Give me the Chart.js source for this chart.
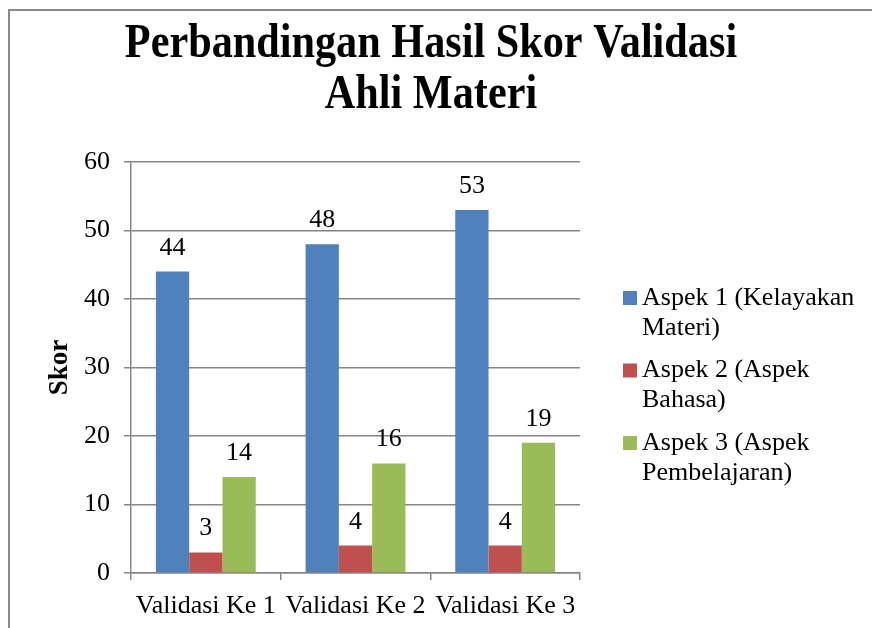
<!DOCTYPE html>
<html>
<head>
<meta charset="utf-8">
<title>Perbandingan Hasil Skor Validasi Ahli Materi</title>
<script src="https://cdn.jsdelivr.net/npm/chart.js@4.4.1/dist/chart.umd.min.js"></script>
<style>
  html, body { margin: 0; padding: 0; background: #fff; }
  #wrap { position: relative; width: 872px; height: 628px; overflow: hidden; }
  #frame {
    position: absolute; left: 8px; top: 9px; width: 900px; height: 700px;
    border-top: 2px solid #8a8a8a; border-left: 2px solid #8a8a8a;
  }
  #chartSkor { position: absolute; left: 0; top: 0; }
</style>
</head>
<body>
<div id="wrap">
  <div id="frame"></div>
  <canvas id="chartSkor" width="872" height="628"></canvas>
</div>
<script>
// ================== DATA ==================
const kategori = ["Validasi Ke 1", "Validasi Ke 2", "Validasi Ke 3"];
const aspek1 = [44, 48, 53];
const aspek2 = [3, 4, 4];
const aspek3 = [14, 16, 19];
const namaSeri = [
  "Aspek 1 (Kelayakan Materi)",
  "Aspek 2 (Aspek Bahasa)",
  "Aspek 3 (Aspek Pembelajaran)",
];
const judul = ["Perbandingan Hasil Skor Validasi", "Ahli Materi"];
const judulSumbuY = "Skor";

const FONT = "'Liberation Serif', 'Times New Roman', serif";
const warna = ["#4F81BD", "#C0504D", "#9BBB59"];

// ================== PLUGINS ==================
// judul dua baris, sedikit dipadatkan seperti aslinya
const judulPlugin = {
  id: "judulPlugin",
  afterDraw(chart) {
    const c = chart.ctx;
    c.save();
    c.fillStyle = "#000";
    c.font = "bold 48px " + FONT;
    c.textAlign = "center";
    c.textBaseline = "alphabetic";
    const baris = [57, 108];
    judul.forEach((t, i) => {
      c.save();
      c.translate(431, baris[i]);
      c.scale(0.88, 1);
      c.fillText(t, 0, 0);
      c.restore();
    });
    c.restore();
  },
};

// angka di atas batang
const labelNilai = {
  id: "labelNilai",
  afterDatasetsDraw(chart) {
    const c = chart.ctx;
    c.save();
    c.fillStyle = "#000";
    c.font = "26px " + FONT;
    c.textAlign = "center";
    c.textBaseline = "alphabetic";
    chart.data.datasets.forEach((ds, i) => {
      chart.getDatasetMeta(i).data.forEach((bar, j) => {
        c.fillText(String(ds.data[j]), bar.x, bar.y - 17);
      });
    });
    c.restore();
  },
};

// legenda di kanan dengan teks terbungkus
const legendaKanan = {
  id: "legendaKanan",
  afterDraw(chart) {
    const c = chart.ctx;
    c.save();
    c.font = "26px " + FONT;
    c.textBaseline = "middle";
    c.textAlign = "left";
    const maxW = 222;
    let y = 298;
    chart.data.datasets.forEach((ds) => {
      // bungkus kata
      const kata = ds.label.split(" ");
      const baris = [];
      let cur = "";
      kata.forEach((k) => {
        const uji = cur ? cur + " " + k : k;
        if (c.measureText(uji).width > maxW && cur) {
          baris.push(cur);
          cur = k;
        } else {
          cur = uji;
        }
      });
      if (cur) baris.push(cur);

      c.fillStyle = ds.backgroundColor;
      c.fillRect(623, y - 7, 14, 14);
      c.fillStyle = "#000";
      baris.forEach((b, i) => c.fillText(b, 642, y + i * 30));
      y += 72.5;
    });
    c.restore();
  },
};

// ================== GRAFIK ==================
const ctx = document.getElementById("chartSkor");

if (ctx && typeof Chart !== "undefined") {
  new Chart(ctx, {
    type: "bar",
    data: {
      labels: kategori,
      datasets: [aspek1, aspek2, aspek3].map((d, i) => ({
        label: namaSeri[i],
        data: d,
        backgroundColor: warna[i],
        borderWidth: 0,
        categoryPercentage: 0.667,
        barPercentage: 1,
      })),
    },
    options: {
      responsive: false,
      animation: false,
      layout: { padding: { top: 162, right: 292, bottom: 0, left: 0 } },
      plugins: {
        legend: { display: false },
        title: { display: false },
        tooltip: { enabled: false },
      },
      scales: {
        x: {
          afterFit(scale) { scale.height = 55; },
          grid: {
            offset: true,
            drawOnChartArea: false,
            drawTicks: true,
            tickLength: 7,
            color: "#868686",
            lineWidth: 1.5,
          },
          border: { color: "#868686", width: 1.5 },
          ticks: {
            color: "#000",
            font: { family: FONT, size: 26 },
            padding: 11,
            maxRotation: 0,
            autoSkip: false,
          },
        },
        y: {
          min: 0,
          max: 60,
          afterFit(scale) { scale.width = 131; },
          ticks: {
            stepSize: 10,
            color: "#000",
            font: { family: FONT, size: 26 },
            padding: 14,
          },
          grid: {
            color: "#868686",
            lineWidth: 1.5,
            tickLength: 7,
          },
          border: { color: "#868686", width: 1.5 },
          title: {
            display: true,
            text: judulSumbuY,
            color: "#000",
            font: { family: FONT, size: 27, weight: "bold" },
            padding: { top: 44, bottom: 0 },
          },
        },
      },
    },
    plugins: [judulPlugin, labelNilai, legendaKanan],
  });
}
</script>
</body>
</html>
